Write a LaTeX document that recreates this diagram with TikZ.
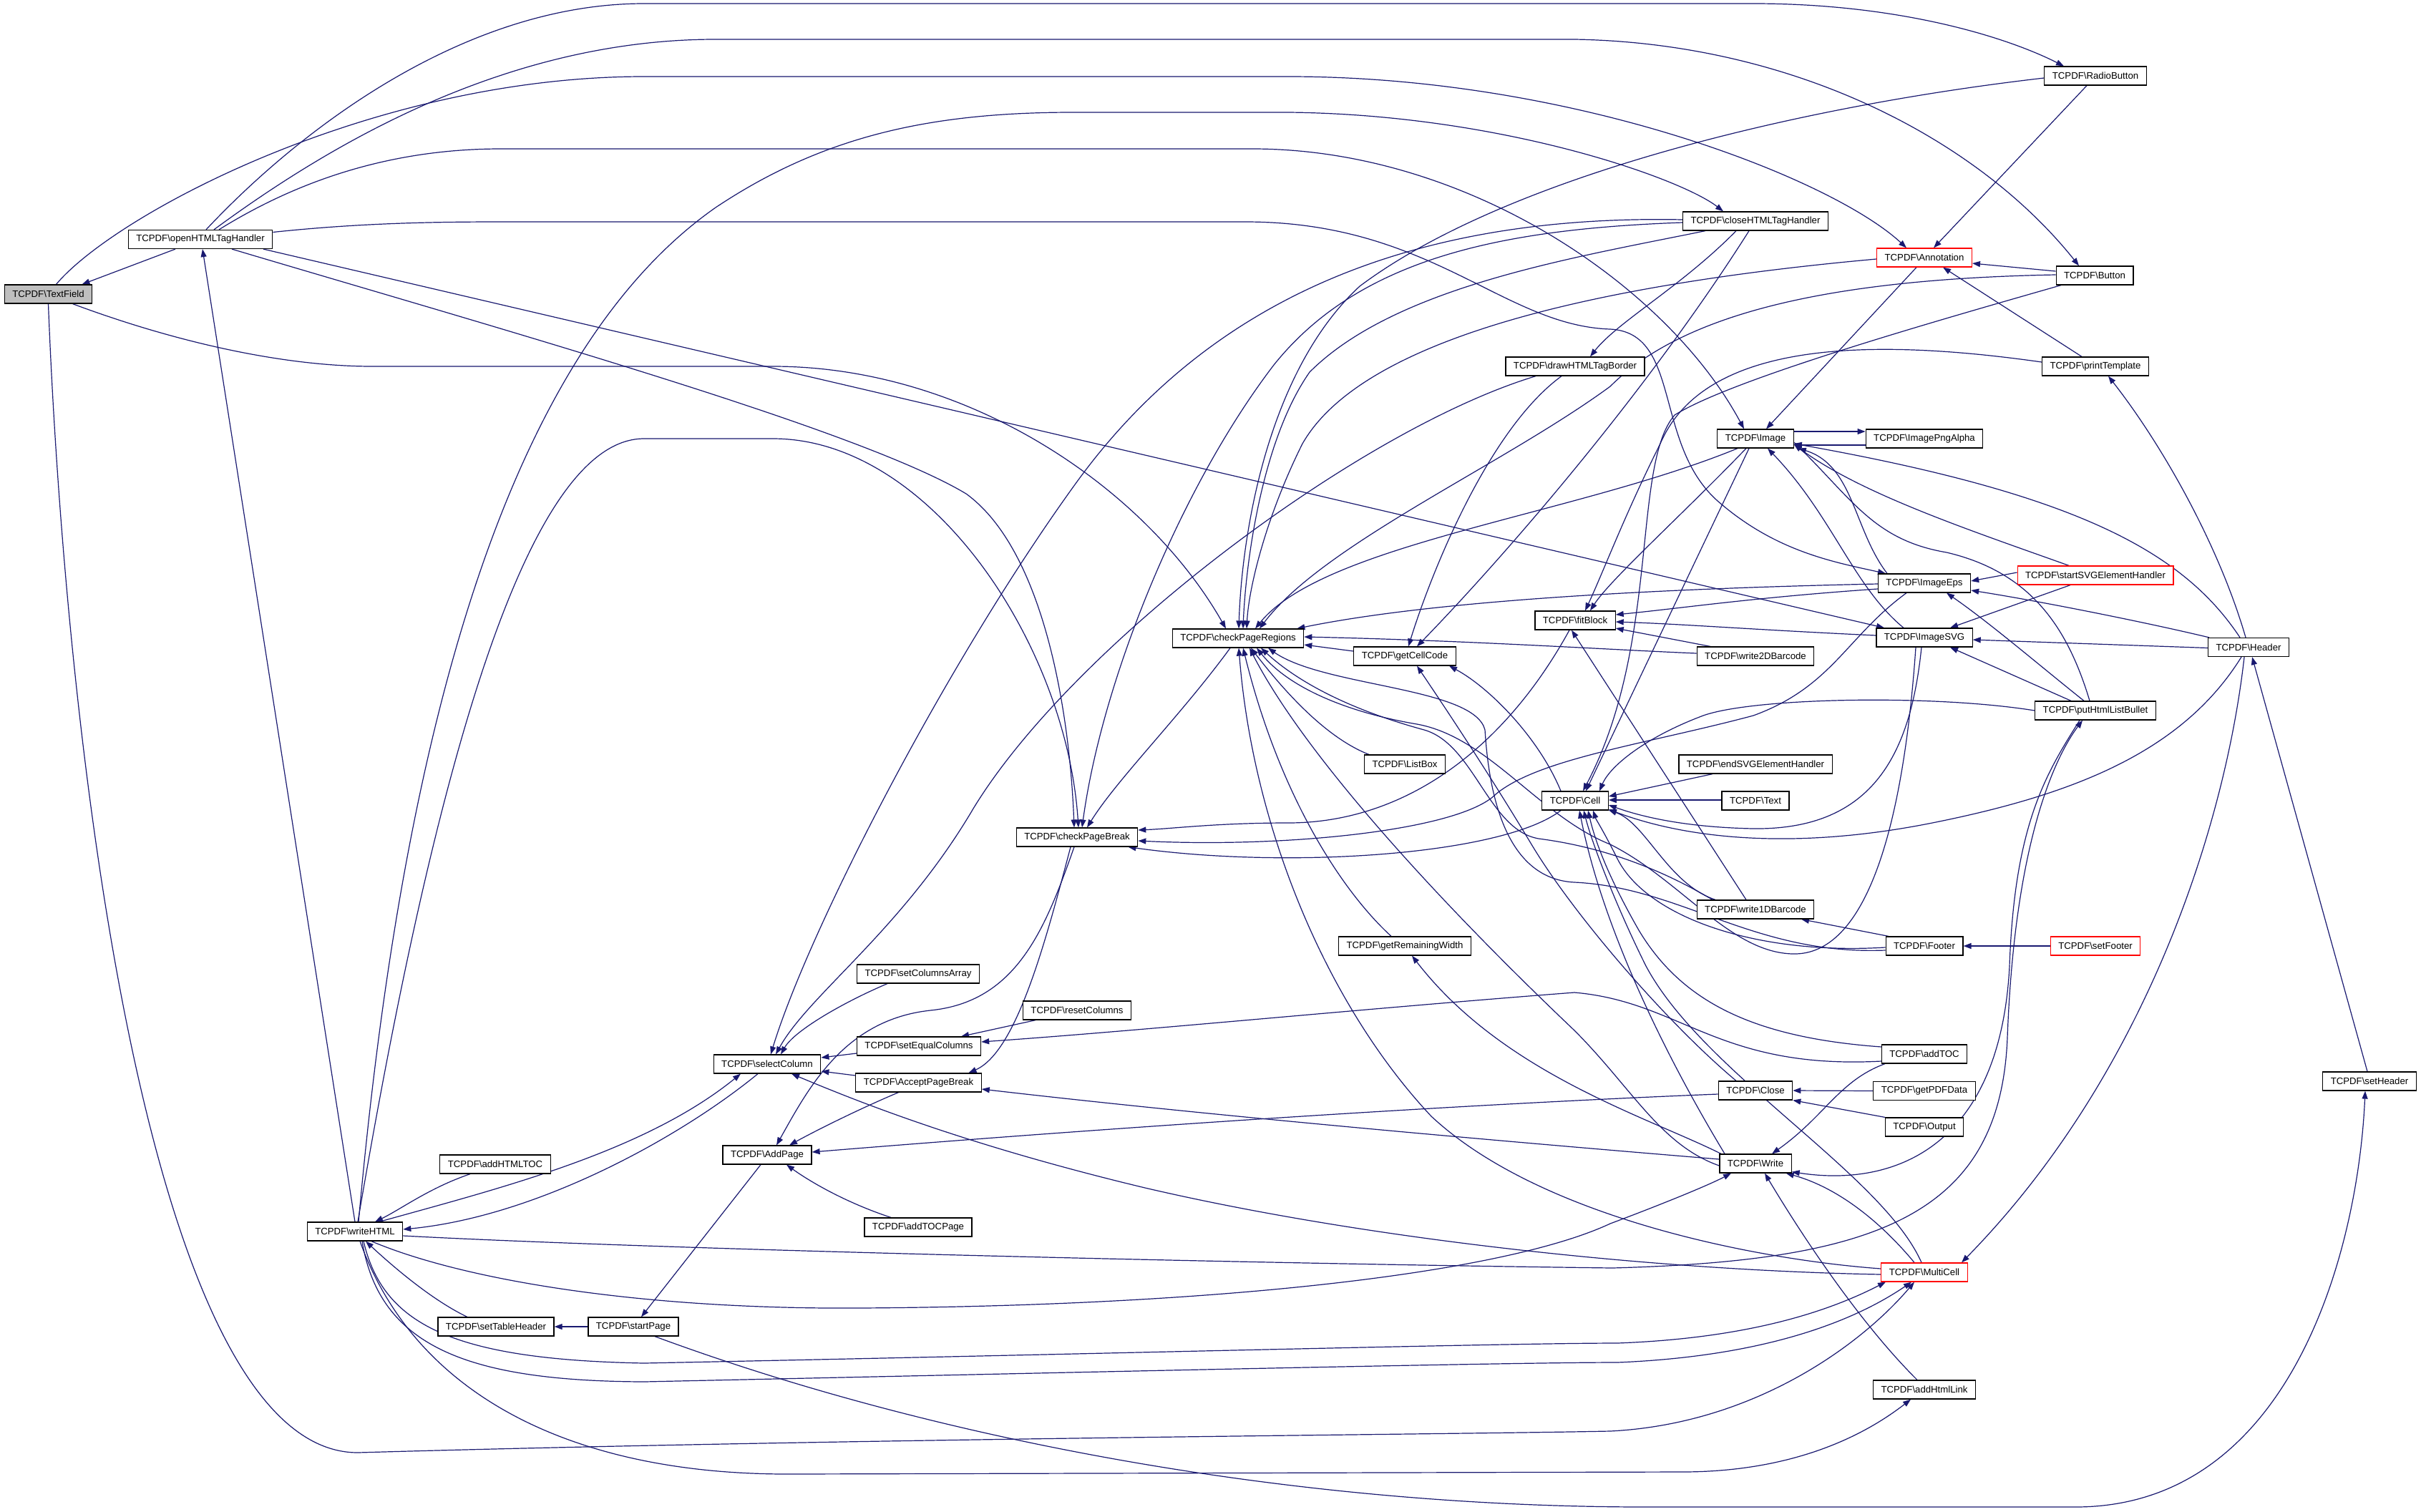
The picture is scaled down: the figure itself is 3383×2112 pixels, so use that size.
\documentclass[tikz,border=0pt]{standalone}
\usepackage{fontspec}
\setmainfont{Liberation Sans}
\usetikzlibrary{arrows.meta}
\definecolor{edgeblue}{HTML}{191970}
\newcommand{\tcp}[1]{TCPDF\textbackslash #1}
\pgfdeclarelayer{bgfill}
\pgfdeclarelayer{edges}
\pgfsetlayers{bgfill,edges,main}
\tikzset{
  box/.style={draw=black, line width=1.2pt, fill=white, inner xsep=11pt, inner ysep=0pt,
              minimum height=26pt, font=\fontsize{13.2}{15}\selectfont},
  redbox/.style={box, draw=red},
  graybox/.style={box, fill=gray!50},
  e/.style={draw=edgeblue, line width=1.2pt, -{Triangle[length=11pt,width=8pt]}}
}
\begin{document}
\begin{tikzpicture}[x=1pt,y=-1pt]
\useasboundingbox (0,0) rectangle (3383,2112);
\begin{pgfonlayer}{bgfill}
\fill[white] (0,0) rectangle (3383,2112);
\end{pgfonlayer}
% ---------------- nodes ----------------
\node[graybox] (TF) at (67.5,411) {\tcp{TextField}};
\node[box] (OH) at (280,334.5) {\tcp{openHTMLTagHandler}};
\node[box] (WH) at (496,1721) {\tcp{writeHTML}};
\node[box] (AHT) at (692,1627) {\tcp{addHTMLTOC}};
\node[box] (STH) at (693,1854) {\tcp{setTableHeader}};
\node[box] (SP) at (885,1854) {\tcp{startPage}};
\node[box] (SC) at (1072,1487) {\tcp{selectColumn}};
\node[box] (AP) at (1072,1614) {\tcp{AddPage}};
\node[box] (SCA) at (1283,1361) {\tcp{setColumnsArray}};
\node[box] (SEC) at (1284,1462) {\tcp{setEqualColumns}};
\node[box] (APB) at (1283.5,1513) {\tcp{AcceptPageBreak}};
\node[box] (ATP) at (1283,1715) {\tcp{addTOCPage}};
\node[box] (CPB) at (1505,1170) {\tcp{checkPageBreak}};
\node[box] (RC) at (1505,1412) {\tcp{resetColumns}};
\node[box] (CPR) at (1730,892) {\tcp{checkPageRegions}};
\node[box] (GCC) at (1963,917) {\tcp{getCellCode}};
\node[box] (LB) at (1963,1068) {\tcp{ListBox}};
\node[box] (GRW) at (1963,1322) {\tcp{getRemainingWidth}};
\node[box] (DHB) at (2201,512) {\tcp{drawHTMLTagBorder}};
\node[box] (FB) at (2201,867) {\tcp{fitBlock}};
\node[box] (CELL) at (2201,1119) {\tcp{Cell}};
\node[box] (CHT) at (2453,309) {\tcp{closeHTMLTagHandler}};
\node[box] (IMG) at (2453,613) {\tcp{Image}};
\node[box] (W2D) at (2453,917) {\tcp{write2DBarcode}};
\node[box] (ESV) at (2453,1068) {\tcp{endSVGElementHandler}};
\node[box] (TXT) at (2453,1119) {\tcp{Text}};
\node[box] (W1D) at (2453,1271) {\tcp{write1DBarcode}};
\node[box] (CLS) at (2453,1524) {\tcp{Close}};
\node[box] (WR) at (2453,1626) {\tcp{Write}};
\node[redbox] (ANN) at (2689,360) {\tcp{Annotation}};
\node[box] (IPA) at (2689,613) {\tcp{ImagePngAlpha}};
\node[box] (IEPS) at (2689,815) {\tcp{ImageEps}};
\node[box] (ISVG) at (2689,891) {\tcp{ImageSVG}};
\node[box] (FTR) at (2689,1322) {\tcp{Footer}};
\node[box] (ATOC) at (2689,1473) {\tcp{addTOC}};
\node[box] (GPD) at (2689,1524.5) {\tcp{getPDFData}};
\node[box] (OUT) at (2689,1575) {\tcp{Output}};
\node[redbox] (MC) at (2689,1778) {\tcp{MultiCell}};
\node[box] (AHL) at (2689,1942) {\tcp{addHtmlLink}};
\node[box] (RB) at (2928,106) {\tcp{RadioButton}};
\node[box] (BTN) at (2927,385) {\tcp{Button}};
\node[box] (PT) at (2928,512) {\tcp{printTemplate}};
\node[redbox] (SSV) at (2928,804) {\tcp{startSVGElementHandler}};
\node[box] (PHB) at (2928,993) {\tcp{putHtmlListBullet}};
\node[redbox] (SF) at (2928,1322) {\tcp{setFooter}};
\node[box] (HDR) at (3142,904.5) {\tcp{Header}};
\node[box] (SH) at (3311,1511) {\tcp{setHeader}};
% ---------------- edges ----------------
\begin{pgfonlayer}{edges}
% left part
\draw[e] ([xshift=-35pt]OH.south) -- ([xshift=47pt]TF.north);
\draw[e] ([xshift=11pt]TF.north) .. controls (160,300) and (520,107) .. (900,107) -- (1800,107) .. controls (2200,107) and (2560,250) .. ([xshift=-25pt]ANN.north);
\draw[e] ([xshift=34pt]TF.south) .. controls (250,480) and (400,512) .. (520,512) -- (1080,512) .. controls (1350,512) and (1600,680) .. ([xshift=-17pt]CPR.north);
\draw[e] (TF.south) .. controls (90,1000) and (200,2030) .. (500,2030) .. controls (1200,2010) and (2000,2005) .. (2250,2000) .. controls (2450,1990) and (2600,1880) .. ([xshift=-14pt]MC.south);
\draw[e] (WH.north) -- ([xshift=3pt]OH.south);
\draw[e] ([xshift=8pt]OH.north) .. controls (420,180) and (650,5) .. (900,5) -- (2450,5) .. controls (2650,5) and (2800,50) .. ([xshift=-44pt]RB.north);
\draw[e] ([xshift=19pt]OH.north) .. controls (450,210) and (700,55) .. (1000,55) -- (2200,55) .. controls (2500,60) and (2760,190) .. ([xshift=-22pt]BTN.north);
\draw[e] ([xshift=26pt]OH.north) .. controls (420,250) and (550,208) .. (700,208) -- (1750,208) .. controls (2050,208) and (2330,400) .. ([xshift=-16pt]IMG.north);
\draw[e] ([yshift=10pt]OH.east) .. controls (500,312) and (600,310) .. (700,310) -- (1740,310) .. controls (2000,310) and (2100,455) .. (2250,460) .. controls (2350,465) and (2310,620) .. (2400,700) .. controls (2480,770) and (2560,785) .. ([xshift=-54pt]IEPS.north);
\draw[e] ([xshift=88pt]OH.south) -- ([xshift=-56pt]ISVG.north);
\draw[e] ([xshift=44pt]OH.south) .. controls (700,460) and (1200,600) .. (1350,690) .. controls (1460,770) and (1495,1000) .. ([xshift=-4pt]CPB.north);
\draw[e] ([xshift=5pt]WH.north) .. controls (560,1050) and (700,500) .. (1000,290) .. controls (1150,190) and (1300,157) .. (1500,157) -- (1800,157) .. controls (2100,160) and (2350,250) .. ([xshift=-45pt]CHT.north);
\draw[e] ([xshift=4pt]WH.north) .. controls (620,1000) and (750,613) .. (900,613) -- (1080,613) .. controls (1300,613) and (1490,900) .. ([xshift=2pt]CPB.north);
\draw[e] ([xshift=-35pt]AHT.south) .. controls (600,1660) and (560,1690) .. ([xshift=28pt]WH.north);
\draw[e] ([xshift=-40pt]STH.north) .. controls (610,1820) and (560,1780) .. ([xshift=15pt]WH.south);
\draw[e] (SP.west) -- (STH.east);
\draw[e] ([xshift=-13pt]SC.south) .. controls (950,1590) and (750,1700) .. ([yshift=3pt]WH.east);
\draw[e] ([xshift=34pt]WH.north) .. controls (700,1660) and (900,1610) .. ([xshift=-37pt]SC.south);
\draw[e] ([xshift=12pt]WH.south) .. controls (535,1850) and (630,1900) .. (900,1905) .. controls (1500,1893) and (2100,1877) .. (2260,1877) .. controls (2450,1870) and (2560,1830) .. ([xshift=-54pt]MC.south);
\draw[e] ([xshift=10pt]WH.south) .. controls (530,1880) and (650,1930) .. (900,1931) .. controls (1500,1918) and (2100,1904) .. (2260,1904) .. controls (2480,1895) and (2600,1840) .. ([xshift=-18pt]MC.south);
\draw[e] ([xshift=23pt]WH.south) .. controls (650,1790) and (900,1830) .. (1200,1828) .. controls (1700,1825) and (2100,1780) .. (2250,1710) .. controls (2330,1680) and (2390,1655) .. ([xshift=-34pt]WR.south);
\draw[e] ([xshift=7pt]WH.south) .. controls (580,1950) and (800,2060) .. (1100,2060) -- (2350,2057) .. controls (2500,2057) and (2600,2010) .. ([xshift=-19pt]AHL.south);
\draw[e] ([yshift=-6pt]WH.east) .. controls (900,1745) and (1700,1765) .. (2253,1772) .. controls (2620,1762) and (2795,1700) .. (2805,1450) .. controls (2815,1180) and (2870,1060) .. ([xshift=-18pt]PHB.south);
\draw[e] ([xshift=-22pt]PHB.south) .. controls (2860,1080) and (2815,1150) .. (2808,1350) .. controls (2795,1600) and (2650,1660) .. ([yshift=2pt]WR.south east);
% pages / columns
\draw[e] ([xshift=-9pt]AP.south) -- ([xshift=11pt]SP.north);
\draw[e] ([xshift=-4pt]CPB.south) .. controls (1460,1300) and (1420,1400) .. (1300,1412) .. controls (1180,1425) and (1130,1520) .. ([xshift=13pt]AP.north);
\draw[e] ([xshift=-28pt]APB.south) .. controls (1200,1550) and (1140,1580) .. ([xshift=31pt]AP.north);
\draw[e] ([yshift=-5pt]CLS.west) .. controls (2000,1545) and (1500,1580) .. ([yshift=4pt]AP.east);
\draw[e] ([xshift=-38pt]ATP.north) .. controls (1180,1680) and (1130,1650) .. ([xshift=27pt]AP.south);
\draw[e] ([yshift=-10pt]SEC.west) -- ([yshift=9pt]SC.east);
\draw[e] ([yshift=10pt]APB.west) -- ([yshift=-10pt]SC.east);
\draw[e] ([xshift=-43pt]SCA.south) .. controls (1180,1400) and (1110,1440) .. ([xshift=19pt]SC.north);
\draw[e] ([yshift=2pt]CHT.west) .. controls (2000,300) and (1700,400) .. (1500,680) .. controls (1320,930) and (1130,1300) .. ([xshift=5pt]SC.north);
\draw[e] ([xshift=-55pt]DHB.south) .. controls (1900,600) and (1500,900) .. (1360,1130) .. controls (1260,1300) and (1130,1390) .. ([xshift=12pt]SC.north);
\draw[e] ([yshift=-3pt]MC.west) .. controls (2300,1775) and (1900,1730) .. (1600,1660) .. controls (1350,1600) and (1200,1540) .. ([xshift=34pt]SC.south);
\draw[e] ([xshift=-58pt]RC.south) -- ([xshift=59pt]SEC.north);
\draw[e] ([xshift=-9pt]CPB.south) .. controls (1460,1320) and (1420,1470) .. ([xshift=70pt]APB.north);
\draw[e] ([yshift=-10pt]ATOC.west) .. controls (2400,1495) and (2350,1400) .. (2200,1387) .. controls (1900,1410) and (1600,1440) .. ([yshift=6pt]SEC.east);
\draw[e] ([yshift=6pt]WR.west) .. controls (2100,1595) and (1700,1560) .. ([yshift=-9pt]APB.east);
% checkPageBreak
\draw[e] ([xshift=-11pt]CPR.south) .. controls (1650,1000) and (1560,1090) .. ([xshift=14pt]CPB.north);
\draw[e] ([yshift=-2pt]CHT.west) .. controls (2100,320) and (1900,360) .. (1780,510) .. controls (1650,680) and (1540,950) .. ([xshift=7pt]CPB.north);
\draw[e] ([xshift=-20pt]CELL.south) .. controls (2100,1195) and (1800,1215) .. ([xshift=-14pt]CPB.south east);
\draw[e] ([xshift=-8pt]FB.south) .. controls (2100,1050) and (1960,1150) .. (1800,1150) .. controls (1700,1150) and (1640,1158) .. ([yshift=10pt]CPB.east);
\draw[e] ([xshift=-25pt]IEPS.south) .. controls (2580,890) and (2560,960) .. (2450,1000) .. controls (2300,1040) and (2150,1060) .. (2090,1110) .. controls (2040,1160) and (1800,1185) .. ([yshift=-5pt]CPB.east);
% checkPageRegions
\draw[e] ([xshift=-70pt]CHT.south) .. controls (2200,360) and (1950,400) .. (1830,520) .. controls (1760,620) and (1740,800) .. ([xshift=7pt]CPR.north);
\draw[e] ([yshift=-3pt]RB.west) .. controls (2500,150) and (2100,250) .. (1900,400) .. controls (1770,520) and (1735,750) .. ([xshift=1pt]CPR.north);
\draw[e] ([yshift=1pt]BTN.west) .. controls (2550,390) and (2350,440) .. (2250,540) .. controls (2100,650) and (1850,760) .. ([xshift=30pt]CPR.north);
\draw[e] ([yshift=-2pt]ANN.west) .. controls (2200,400) and (1900,480) .. (1820,620) .. controls (1770,720) and (1745,820) .. ([xshift=12pt]CPR.north);
\draw[e] ([xshift=-25pt]IMG.south) .. controls (2200,720) and (1850,760) .. ([xshift=24pt]CPR.north);
\draw[e] ([yshift=-1pt]IEPS.west) .. controls (2300,823) and (2000,840) .. ([xshift=-10pt]CPR.north east);
\draw[e] ([yshift=4pt]W2D.west) .. controls (2250,908) and (2050,895) .. ([yshift=2pt]CPR.east);
\draw[e] ([yshift=7pt]GCC.west) -- ([yshift=-9pt]CPR.east);
\draw[e] ([yshift=5pt]MC.west) .. controls (2450,1760) and (2150,1700) .. (2000,1560) .. controls (1850,1400) and (1750,1150) .. ([xshift=1pt]CPR.south);
\draw[e] ([xshift=-19pt]GRW.north) .. controls (1880,1250) and (1790,1120) .. ([xshift=7pt]CPR.south);
\draw[e] ([yshift=-3pt]WR.west) .. controls (2320,1600) and (2280,1520) .. (2200,1440) .. controls (2000,1250) and (1820,1050) .. ([xshift=16pt]CPR.south);
\draw[e] ([xshift=-50pt]LB.north) .. controls (1850,1030) and (1790,960) .. ([xshift=18pt]CPR.south);
\draw[e] ([xshift=-12pt]ISVG.south) .. controls (2660,1150) and (2610,1330) .. (2510,1333) .. controls (2420,1335) and (2350,1230) .. (2250,1180) .. controls (2150,1140) and (2080,1030) .. (1980,1012) .. controls (1880,995) and (1800,960) .. ([xshift=26pt]CPR.south);
\draw[e] ([xshift=-60pt]W1D.north) .. controls (2330,1220) and (2250,1185) .. (2150,1172) .. controls (2080,1160) and (2060,1040) .. (1990,1020) .. controls (1880,990) and (1810,950) .. ([xshift=32pt]CPR.south);
\draw[e] ([yshift=-6pt]FTR.west) .. controls (2450,1335) and (2350,1240) .. (2200,1233) .. controls (2100,1228) and (2080,1100) .. (2075,1020) .. controls (2060,960) and (1850,960) .. ([xshift=42pt]CPR.south);
% image family
\draw[e] ([xshift=-52pt]IEPS.north) .. controls (2590,740) and (2590,650) .. ([xshift=6pt]IMG.south east);
\draw[e] ([xshift=-29pt]ISVG.north) .. controls (2590,820) and (2560,720) .. ([xshift=17pt]IMG.south);
\draw[e] ([yshift=-9pt]IPA.west) -- ([yshift=-9pt]IMG.east);
\draw[e] ([yshift=10pt]IMG.east) -- ([yshift=10pt]IPA.west);
\draw[e] ([xshift=-12pt]HDR.north) .. controls (3050,770) and (2900,690) .. ([yshift=-7pt]IMG.east);
\draw[e] ([xshift=-37pt]SSV.north) .. controls (2750,740) and (2600,690) .. ([yshift=-8pt]IMG.east);
\draw[e] ([xshift=-8pt]PHB.north) .. controls (2890,880) and (2840,800) .. (2720,772) .. controls (2620,755) and (2590,700) .. ([yshift=-5pt]IMG.east);
\draw[e] ([xshift=-11pt]ANN.south) -- ([xshift=15pt]IMG.north);
\draw[e] ([yshift=4pt]SSV.west) -- ([yshift=3pt]IEPS.east);
\draw[e] ([xshift=-55pt]HDR.north) .. controls (3000,870) and (2850,840) .. ([yshift=-10pt]IEPS.east);
\draw[e] ([xshift=-16pt]PHB.north) .. controls (2850,930) and (2780,870) .. ([xshift=31pt]IEPS.south);
\draw[e] ([xshift=-35pt]SSV.south) -- ([xshift=36pt]ISVG.north);
\draw[e] ([yshift=-1pt]HDR.west) -- ([yshift=-3pt]ISVG.east);
\draw[e] ([xshift=-34pt]PHB.north) -- ([xshift=36pt]ISVG.south);
\draw[e] ([xshift=-4pt]HDR.north) .. controls (3100,760) and (3020,620) .. ([xshift=18pt]PT.south);
\draw[e] ([xshift=-10pt]HDR.south) .. controls (3050,1050) and (2900,1110) .. (2700,1150) .. controls (2500,1190) and (2350,1170) .. ([yshift=-12pt]CELL.east);
\draw[e] ([xshift=-6pt]HDR.south) .. controls (3110,1150) and (3000,1500) .. ([xshift=52pt]MC.north);
\draw[e] ([xshift=-3pt]SH.north) -- ([xshift=5pt]HDR.south);
\draw[e] ([xshift=30pt]SP.south) .. controls (1300,2010) and (1800,2106) .. (2300,2106) -- (2900,2106) .. controls (3200,2106) and (3295,1750) .. ([xshift=-6pt]SH.south);
% annotation family
\draw[e] ([yshift=6pt]BTN.west) -- ([yshift=-8pt]ANN.east);
\draw[e] ([xshift=-12pt]RB.south) -- ([xshift=13pt]ANN.north);
\draw[e] ([xshift=-19pt]PT.north) -- ([xshift=26pt]ANN.south);
\draw[e] ([xshift=-47pt]BTN.south) .. controls (2700,450) and (2420,530) .. (2340,580) .. controls (2280,650) and (2320,900) .. ([xshift=11pt]CELL.north);
\draw[e] ([yshift=6pt]PT.west) .. controls (2600,470) and (2380,480) .. (2320,620) .. controls (2270,720) and (2240,800) .. ([xshift=14pt]FB.north);
% fitBlock
\draw[e] ([xshift=-13pt]IMG.south) .. controls (2350,720) and (2250,810) .. ([xshift=21pt]FB.north);
\draw[e] ([xshift=-9pt]IMG.south) -- ([xshift=15pt]CELL.north);
\draw[e] ([yshift=-8pt]IEPS.west) .. controls (2450,835) and (2350,850) .. ([yshift=8pt]FB.east);
\draw[e] ([yshift=3pt]ISVG.west) .. controls (2450,880) and (2350,872) .. ([yshift=-2pt]FB.east);
\draw[e] ([xshift=-63pt]W2D.north) -- ([yshift=-11pt]FB.east);
\draw[e] ([xshift=-13pt]W1D.north) -- ([xshift=-5pt]FB.south);
% Cell
\draw[e] ([xshift=-4pt]ISVG.south) .. controls (2670,1050) and (2620,1160) .. (2450,1158) .. controls (2350,1156) and (2290,1140) .. ([yshift=-6pt]CELL.east);
\draw[e] ([xshift=-56pt]W1D.north) .. controls (2330,1235) and (2300,1150) .. ([yshift=-13pt]CELL.east);
\draw[e] ([xshift=-50pt]FTR.north) -- ([xshift=64pt]W1D.south);
\draw[e] ([yshift=-2pt]FTR.west) .. controls (2450,1335) and (2300,1280) .. (2260,1200) .. controls (2240,1160) and (2230,1145) .. ([xshift=25pt]CELL.south);
\draw[e] (SF.west) -- (FTR.east);
\draw[e] ([xshift=-60pt]ESV.south) -- ([yshift=6pt]CELL.east);
\draw[e] ([yshift=1pt]TXT.west) -- ([yshift=1pt]CELL.east);
\draw[e] (PHB.west) .. controls (2700,970) and (2450,975) .. (2380,1000) .. controls (2300,1030) and (2250,1070) .. ([xshift=34pt]CELL.north);
\draw[e] ([xshift=-4pt]MC.north) .. controls (2630,1640) and (2380,1500) .. (2300,1350) .. controls (2260,1270) and (2225,1180) .. ([xshift=12pt]CELL.south);
\draw[e] ([xshift=-43pt]WR.north) .. controls (2330,1480) and (2240,1300) .. ([xshift=6pt]CELL.south);
\draw[e] ([yshift=10pt]ATOC.west) .. controls (2450,1450) and (2350,1400) .. (2290,1300) .. controls (2250,1230) and (2230,1180) .. ([xshift=18pt]CELL.south);
% getCellCode
\draw[e] ([xshift=-20pt]CELL.north) .. controls (2150,1030) and (2080,960) .. ([xshift=62pt]GCC.south);
\draw[e] ([xshift=-27pt]CLS.north) .. controls (2330,1430) and (2200,1280) .. (2140,1180) .. controls (2080,1080) and (2020,990) .. ([xshift=17pt]GCC.south);
\draw[e] ([xshift=-9pt]CHT.south) .. controls (2300,550) and (2100,780) .. ([xshift=17pt]GCC.north);
\draw[e] ([xshift=-19pt]DHB.south) .. controls (2080,600) and (2000,800) .. ([xshift=5pt]GCC.north);
\draw[e] ([xshift=-27pt]CHT.south) .. controls (2350,400) and (2260,450) .. ([xshift=21pt]DHB.north);
% Write / Close
\draw[e] ([xshift=-48pt]WR.north) .. controls (2300,1560) and (2100,1500) .. ([xshift=10pt]GRW.south);
\draw[e] ([xshift=-55pt]ATOC.south) .. controls (2570,1510) and (2550,1560) .. ([xshift=23pt]WR.north);
\draw[e] (GPD.west) -- (CLS.east);
\draw[e] ([xshift=-55pt]OUT.north) -- (CLS.south east);
\draw[e] ([xshift=-14pt]MC.north) .. controls (2630,1710) and (2570,1660) .. ([xshift=-8pt]WR.south east);
\draw[e] ([xshift=-10pt]AHL.north) .. controls (2600,1850) and (2520,1730) .. ([xshift=13pt]WR.south);
\end{pgfonlayer}
\end{tikzpicture}
\end{document}
